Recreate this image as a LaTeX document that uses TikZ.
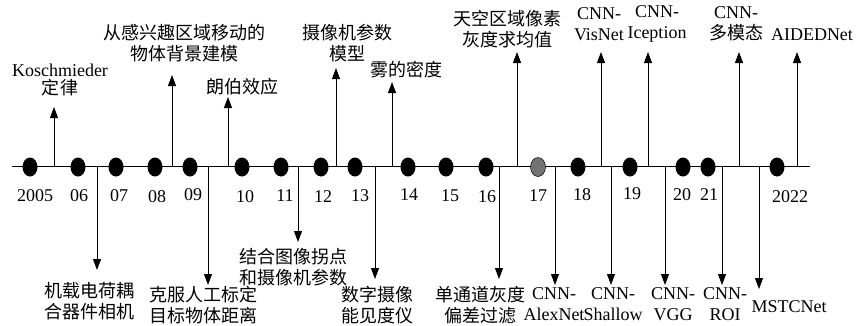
\documentclass[tikz,border=0pt]{standalone}
\usepackage{fontspec}
\setmainfont{Liberation Serif}
\newfontfamily\cjk{Noto Sans CJK SC}
\usetikzlibrary{arrows.meta,shapes.geometric}
\begin{document}
\begin{tikzpicture}[x=1pt,y=-1pt,
  dot/.style={ellipse,minimum width=15pt,minimum height=19pt,inner sep=0pt,fill=black},
  graydot/.style={dot,fill=black!55,draw=black,line width=0.5pt},
  lbl/.style={font=\fontsize{18}{21}\selectfont,align=center,inner sep=0pt},
  yr/.style={font=\fontsize{18}{21}\selectfont,inner sep=0pt},
  arr/.style={-{Triangle[width=8pt,length=11pt]},line width=0.9pt},
  axis/.style={line width=0.9pt}]
\useasboundingbox (0,0) rectangle (859,325);
% timeline
\coordinate (L) at (12,166);
\coordinate (R) at (810,166);
\draw[axis] (L) -- (R);
% dots
\node[dot] (d05) at (30,167) {};
\node[dot] (d06) at (78,167) {};
\node[dot] (d07) at (116,167) {};
\node[dot] (d08) at (155,167) {};
\node[dot] (d09) at (190,167) {};
\node[dot] (d10) at (242,167) {};
\node[dot] (d11) at (281,167) {};
\node[dot] (d12) at (321,167) {};
\node[dot] (d13) at (355,167) {};
\node[dot] (d14) at (408,167) {};
\node[dot] (d15) at (446,167) {};
\node[dot] (d16) at (486,167) {};
\node[graydot] (d17) at (538,167) {};
\node[dot] (d18) at (578,167) {};
\node[dot] (d19) at (630,167) {};
\node[dot] (d20) at (683,167) {};
\node[dot] (d21) at (708,167) {};
\node[dot] (d22) at (777,167) {};
% years
\node[yr] (y05) at (35,196) {2005};
\node[yr] (y06) at (79,196) {06};
\node[yr] (y07) at (119,196) {07};
\node[yr] (y08) at (157,197) {08};
\node[yr] (y09) at (193,195) {09};
\node[yr] (y10) at (245,197) {10};
\node[yr] (y11) at (285,196) {11};
\node[yr] (y12) at (323,197) {12};
\node[yr] (y13) at (360,196) {13};
\node[yr] (y14) at (409,195) {14};
\node[yr] (y15) at (450,196) {15};
\node[yr] (y16) at (487,197) {16};
\node[yr] (y17) at (538,196) {17};
\node[yr] (y18) at (582,195) {18};
\node[yr] (y19) at (632,194) {19};
\node[yr] (y20) at (682,195) {20};
\node[yr] (y21) at (709,195) {21};
\node[yr] (y22) at (790,197) {2022};
% upper labels
\node[lbl] (t1) at (60,80) {Koschmieder\\[-3pt]{\cjk 定律}};
\node[lbl] (t2) at (184,43) {\cjk 从感兴趣区域移动的\\\cjk 物体背景建模};
\node[lbl] (t3) at (242,87) {\cjk 朗伯效应};
\node[lbl] (t4) at (347,43) {\cjk 摄像机参数\\\cjk 模型};
\node[lbl] (t5) at (406,70) {\cjk 雾的密度};
\node[lbl] (t6) at (507,29) {\cjk 天空区域像素\\\cjk 灰度求均值};
\node[lbl] (t7) at (599,24) {CNN-\\VisNet};
\node[lbl] (t8) at (657,24) {CNN-\\Iception};
\node[lbl] (t9) at (736,24) {CNN-\\{\cjk 多模态}};
\node[lbl] (t10) at (812,35) {AIDEDNet};
% lower labels
\node[lbl] (b1) at (89,301) {\cjk 机载电荷耦\\\cjk 合器件相机};
\node[lbl] (b2) at (203,305) {\cjk 克服人工标定\\\cjk 目标物体距离};
\node[lbl] (b3) at (293,267) {\cjk 结合图像拐点\\\cjk 和摄像机参数};
\node[lbl] (b4) at (377,305) {\cjk 数字摄像\\\cjk 能见度仪};
\node[lbl] (b5) at (480,305) {\cjk 单通道灰度\\\cjk 偏差过滤};
\node[lbl] (b6) at (554,304) {CNN-\\AlexNet};
\node[lbl] (b7) at (613,304) {CNN-\\Shallow};
\node[lbl] (b8) at (673,304) {CNN-\\VGG};
\node[lbl] (b9) at (725,304) {CNN-\\ROI};
\node[lbl] (b10) at (789,307) {MSTCNet};
% up arrows
\foreach \n/\x/\t in {u1/54/107,u2/172/75,u3/228/97,u4/336/68,u5/392/82,u6/517/52,u7/601/52,u8/648/52,u9/739/52,u10/797/52}{
  \coordinate (\n s) at (\x,166);
  \coordinate (\n e) at (\x,\t);
  \draw[arr] (\n s) -- (\n e);
}
% down arrows
\foreach \n/\x/\t in {w1/97/270,w2/208/285,w3/298/242,w4/375/279,w5/499/279,w6/555/285,w7/611/285,w8/665/285,w9/722/285,w10/759/289}{
  \coordinate (\n s) at (\x,166);
  \coordinate (\n e) at (\x,\t);
  \draw[arr] (\n s) -- (\n e);
}
\end{tikzpicture}
\end{document}
